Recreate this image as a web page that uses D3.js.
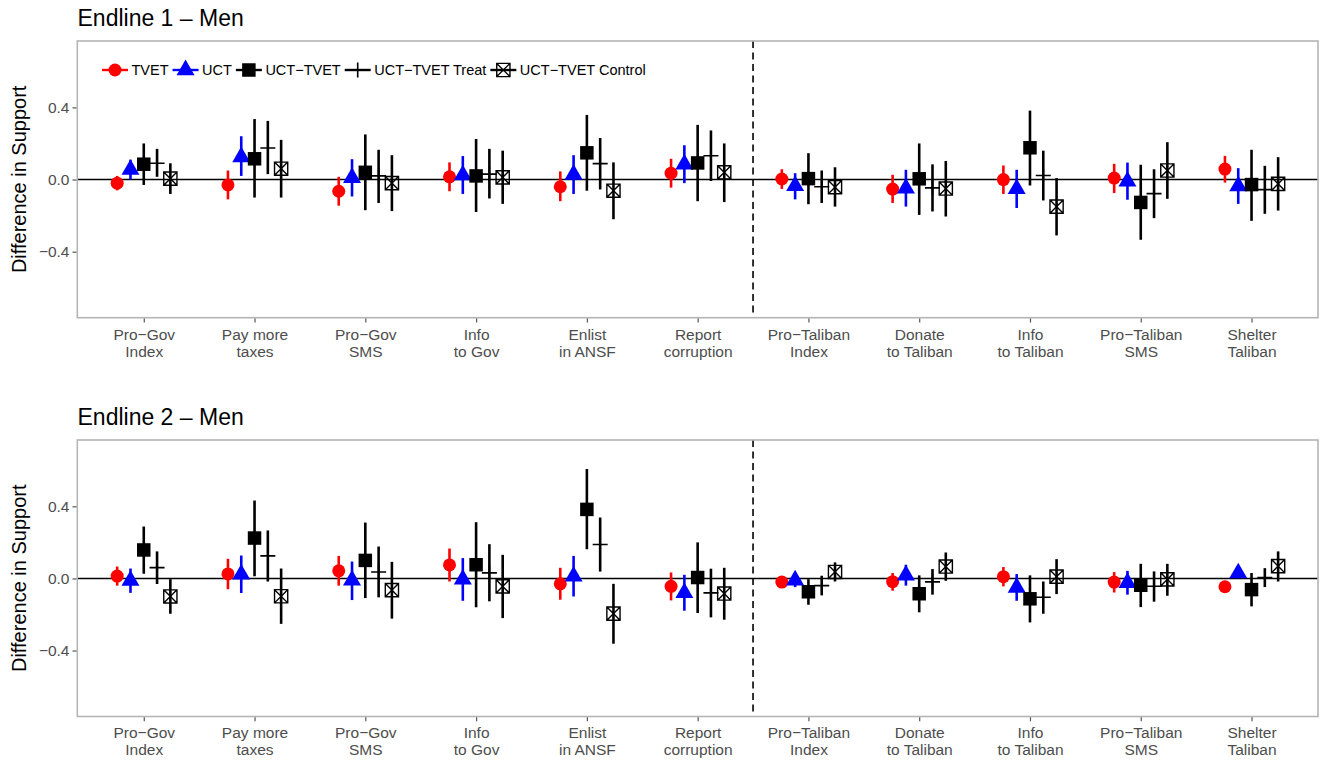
<!DOCTYPE html>
<html>
<head>
<meta charset="utf-8">
<script src="https://cdn.jsdelivr.net/npm/d3@7"></script>
<style>
  body { margin: 0; background: #fff; }
  svg { display: block; }
  text { font-family: "Liberation Sans", Arial, Helvetica, sans-serif; }
</style>
</head>
<body>
<svg id="chart" width="1321" height="762"></svg>
<script>
// Outcome categories (two-line axis labels)
const categories = [
  "Pro−Gov\nIndex", "Pay more\ntaxes", "Pro−Gov\nSMS", "Info\nto Gov", "Enlist\nin ANSF",
  "Report\ncorruption", "Pro−Taliban\nIndex", "Donate\nto Taliban", "Info\nto Taliban",
  "Pro−Taliban\nSMS", "Shelter\nTaliban"
];
const seriesNames = ["TVET", "UCT", "UCT−TVET", "UCT−TVET Treat", "UCT−TVET Control"];
const yTicks = [-0.4, 0, 0.4];

// Each entry: [estimate, lower bound, upper bound]
// Endline 1
const e1TVET = [
  [-0.02, -0.06, 0.02], [-0.03, -0.11, 0.05], [-0.065, -0.145, 0.015], [0.015, -0.065, 0.095],
  [-0.04, -0.12, 0.045], [0.035, -0.045, 0.115], [0.003, -0.052, 0.057], [-0.053, -0.13, 0.026],
  [0.0, -0.08, 0.078], [0.008, -0.075, 0.087], [0.058, -0.017, 0.131]
];
const e1UCT = [
  [0.055, 0.0, 0.11], [0.125, 0.02, 0.24], [0.01, -0.094, 0.113], [0.025, -0.08, 0.13],
  [0.028, -0.08, 0.135], [0.085, -0.02, 0.19], [-0.035, -0.11, 0.035], [-0.048, -0.15, 0.054],
  [-0.052, -0.158, 0.054], [-0.01, -0.112, 0.094], [-0.036, -0.135, 0.063]
];
const e1UCTTVET = [
  [0.085, -0.03, 0.2], [0.115, -0.1, 0.335], [0.04, -0.17, 0.25], [0.02, -0.18, 0.225],
  [0.148, -0.062, 0.358], [0.092, -0.12, 0.303], [0.005, -0.137, 0.146], [0.004, -0.196, 0.2],
  [0.176, -0.033, 0.382], [-0.127, -0.334, 0.082], [-0.028, -0.229, 0.165]
];
const e1Treat = [
  [0.09, 0.015, 0.17], [0.175, 0.03, 0.325], [0.02, -0.13, 0.165], [0.03, -0.105, 0.17],
  [0.088, -0.055, 0.23], [0.132, -0.008, 0.272], [-0.04, -0.13, 0.05], [-0.046, -0.177, 0.084],
  [0.022, -0.116, 0.16], [-0.078, -0.214, 0.057], [-0.056, -0.19, 0.076]
];
const e1Control = [
  [0.005, -0.08, 0.09], [0.06, -0.1, 0.22], [-0.02, -0.175, 0.135], [0.012, -0.135, 0.16],
  [-0.062, -0.22, 0.095], [0.04, -0.125, 0.2], [-0.042, -0.15, 0.068], [-0.05, -0.205, 0.103],
  [-0.15, -0.31, 0.008], [0.05, -0.107, 0.207], [-0.024, -0.172, 0.124]
];
// Endline 2
const e2TVET = [
  [0.013, -0.04, 0.066], [0.025, -0.06, 0.109], [0.042, -0.04, 0.125], [0.075, -0.017, 0.166],
  [-0.03, -0.118, 0.059], [-0.044, -0.122, 0.033], [-0.02, -0.04, 0.0], [-0.018, -0.068, 0.03],
  [0.01, -0.044, 0.063], [-0.02, -0.078, 0.035], [-0.046, -0.066, -0.026]
];
const e2UCT = [
  [-0.012, -0.08, 0.055], [0.023, -0.081, 0.127], [-0.01, -0.12, 0.094], [-0.005, -0.124, 0.113],
  [0.012, -0.1, 0.125], [-0.08, -0.179, 0.02], [-0.01, -0.048, 0.03], [0.018, -0.04, 0.076],
  [-0.05, -0.124, 0.024], [-0.024, -0.09, 0.042], [0.03, 0.005, 0.055]
];
const e2UCTTVET = [
  [0.158, 0.026, 0.288], [0.224, 0.012, 0.432], [0.1, -0.109, 0.31], [0.076, -0.16, 0.312],
  [0.383, 0.162, 0.607], [0.005, -0.192, 0.2], [-0.074, -0.146, -0.004], [-0.085, -0.188, 0.017],
  [-0.113, -0.244, 0.017], [-0.038, -0.159, 0.081], [-0.062, -0.155, 0.03]
];
const e2Treat = [
  [0.06, -0.031, 0.15], [0.125, -0.017, 0.266], [0.036, -0.105, 0.177], [0.031, -0.127, 0.19],
  [0.188, 0.038, 0.338], [-0.08, -0.216, 0.054], [-0.04, -0.094, 0.015], [-0.019, -0.09, 0.052],
  [-0.104, -0.196, -0.017], [-0.043, -0.129, 0.039], [0.005, -0.048, 0.057]
];
const e2Control = [
  [-0.1, -0.196, -0.004], [-0.099, -0.252, 0.055], [-0.065, -0.223, 0.092], [-0.044, -0.22, 0.131],
  [-0.195, -0.362, -0.03], [-0.084, -0.229, 0.059], [0.036, -0.017, 0.089], [0.066, -0.013, 0.144],
  [0.01, -0.087, 0.107], [-0.005, -0.096, 0.081], [0.068, -0.017, 0.15]
];

const seriesColors = ["#ff0000", "#0000ff", "#000000", "#000000", "#000000"];
const seriesShapes = ["circle", "triangle", "square", "plus", "boxx"];

const svg = d3.select("#chart");
const left = 77.3, right = 1318;
const x = d3.scalePoint().domain(categories).range([left, right]).padding(0.6);
const dodge = x.step() * 0.12;
const yDomain = [-0.766, 0.768];

const panels = [
  { title: "Endline 1 – Men", top: 41, bottom: 317.7, series: [e1TVET, e1UCT, e1UCTTVET, e1Treat, e1Control], legend: true },
  { title: "Endline 2 – Men", top: 440, bottom: 716.5, series: [e2TVET, e2UCT, e2UCTTVET, e2Treat, e2Control], legend: false }
];

function drawMarker(g, shape, color, cx, cy) {
  if (shape === "circle") {
    g.append("path").attr("d", d3.symbol(d3.symbolCircle, Math.PI * 6.5 * 6.5)())
      .attr("transform", `translate(${cx},${cy})`).attr("fill", color);
  } else if (shape === "triangle") {
    g.append("path").attr("d", d3.symbol(d3.symbolTriangle, 27 * 3 * Math.sqrt(3))())
      .attr("transform", `translate(${cx},${cy})`).attr("fill", color);
  } else if (shape === "square") {
    g.append("path").attr("d", d3.symbol(d3.symbolSquare, 13.5 * 13.5)())
      .attr("transform", `translate(${cx},${cy})`).attr("fill", color);
  } else if (shape === "plus") {
    const h = 7.5;
    g.append("path").attr("d", `M${-h},0H${h}M0,${-h}V${h}`)
      .attr("transform", `translate(${cx},${cy})`)
      .attr("stroke", color).attr("stroke-width", 1.6).attr("fill", "none");
  } else if (shape === "boxx") {
    const h = 6.6;
    g.append("path").attr("d", `M${-h},${-h}H${h}V${h}H${-h}ZM${-h},${-h}L${h},${h}M${h},${-h}L${-h},${h}`)
      .attr("transform", `translate(${cx},${cy})`)
      .attr("stroke", color).attr("stroke-width", 1.4).attr("fill", "none");
  }
}

panels.forEach(p => {
  const g = svg.append("g");
  const y = d3.scaleLinear().domain(yDomain).range([p.bottom, p.top]);

  g.append("rect").attr("x", left).attr("y", p.top)
    .attr("width", right - left).attr("height", p.bottom - p.top).attr("fill", "#fff");

  // zero reference line
  g.append("line").attr("x1", left).attr("x2", right)
    .attr("y1", y(0)).attr("y2", y(0)).attr("stroke", "#000").attr("stroke-width", 1.5);

  // divider between government and Taliban outcomes
  const xd = x(categories[5]) + x.step() / 2;
  g.append("line").attr("x1", xd).attr("x2", xd).attr("y1", p.top).attr("y2", p.bottom)
    .attr("stroke", "#000").attr("stroke-width", 1.6).attr("stroke-dasharray", "7,4.5");

  // point ranges
  p.series.forEach((vals, s) => {
    const sg = g.append("g");
    vals.forEach((v, i) => {
      const cx = x(categories[i]) + (s - 2) * dodge;
      sg.append("line").attr("x1", cx).attr("x2", cx)
        .attr("y1", y(v[1])).attr("y2", y(v[2]))
        .attr("stroke", seriesColors[s]).attr("stroke-width", 2.6);
      drawMarker(sg, seriesShapes[s], seriesColors[s], cx, y(v[0]));
    });
  });

  // panel border
  g.append("rect").attr("x", left).attr("y", p.top)
    .attr("width", right - left).attr("height", p.bottom - p.top)
    .attr("fill", "none").attr("stroke", "#b5b5b5").attr("stroke-width", 1.6);

  // y axis
  const ya = g.append("g").attr("transform", `translate(${left - 0.8},0)`)
    .call(d3.axisLeft(y).tickValues(yTicks).tickSize(4).tickPadding(3).tickFormat(d3.format(".1f")));
  ya.select(".domain").remove();
  ya.selectAll(".tick line").attr("stroke", "#555").attr("stroke-width", 1.2);
  ya.selectAll(".tick text").attr("fill", "#4d4d4d").attr("font-size", 15.5)
    .attr("font-family", "Liberation Sans, Arial, sans-serif");

  // x axis
  const xa = g.append("g").attr("transform", `translate(0,${p.bottom + 0.8})`)
    .call(d3.axisBottom(x).tickSize(4));
  xa.select(".domain").remove();
  xa.selectAll(".tick line").attr("stroke", "#555").attr("stroke-width", 1.2);
  xa.selectAll(".tick text").each(function (d) {
    const t = d3.select(this).text(null).attr("dy", null).attr("y", 21.2)
      .attr("fill", "#4d4d4d").attr("font-size", 15.5)
      .attr("font-family", "Liberation Sans, Arial, sans-serif");
    d.split("\n").forEach((line, k) => {
      t.append("tspan").attr("x", 0).attr("dy", k === 0 ? 0 : 17).text(line);
    });
  });

  // panel title
  svg.append("text").attr("x", 77.5).attr("y", p.top - 15)
    .attr("font-size", 23).attr("fill", "#000").text(p.title);

  // y axis title
  svg.append("text")
    .attr("transform", `translate(25.5,${(p.top + p.bottom) / 2}) rotate(-90)`)
    .attr("text-anchor", "middle").attr("font-size", 20).attr("fill", "#000")
    .text("Difference in Support");

  // legend
  if (p.legend) {
    const ly = 70;
    let kx = 102;
    seriesNames.forEach((name, s) => {
      const lg = svg.append("g");
      lg.append("line").attr("x1", kx).attr("x2", kx + 26).attr("y1", ly).attr("y2", ly)
        .attr("stroke", seriesColors[s]).attr("stroke-width", 2.4);
      drawMarker(lg, seriesShapes[s], seriesColors[s], kx + 13, ly);
      const t = lg.append("text").attr("x", kx + 29.5).attr("y", ly + 5.2)
        .attr("font-size", 14.5).attr("fill", "#000").text(name);
      kx = kx + 29.5 + t.node().getComputedTextLength() + 4;
    });
  }
});
</script>
</body>
</html>
